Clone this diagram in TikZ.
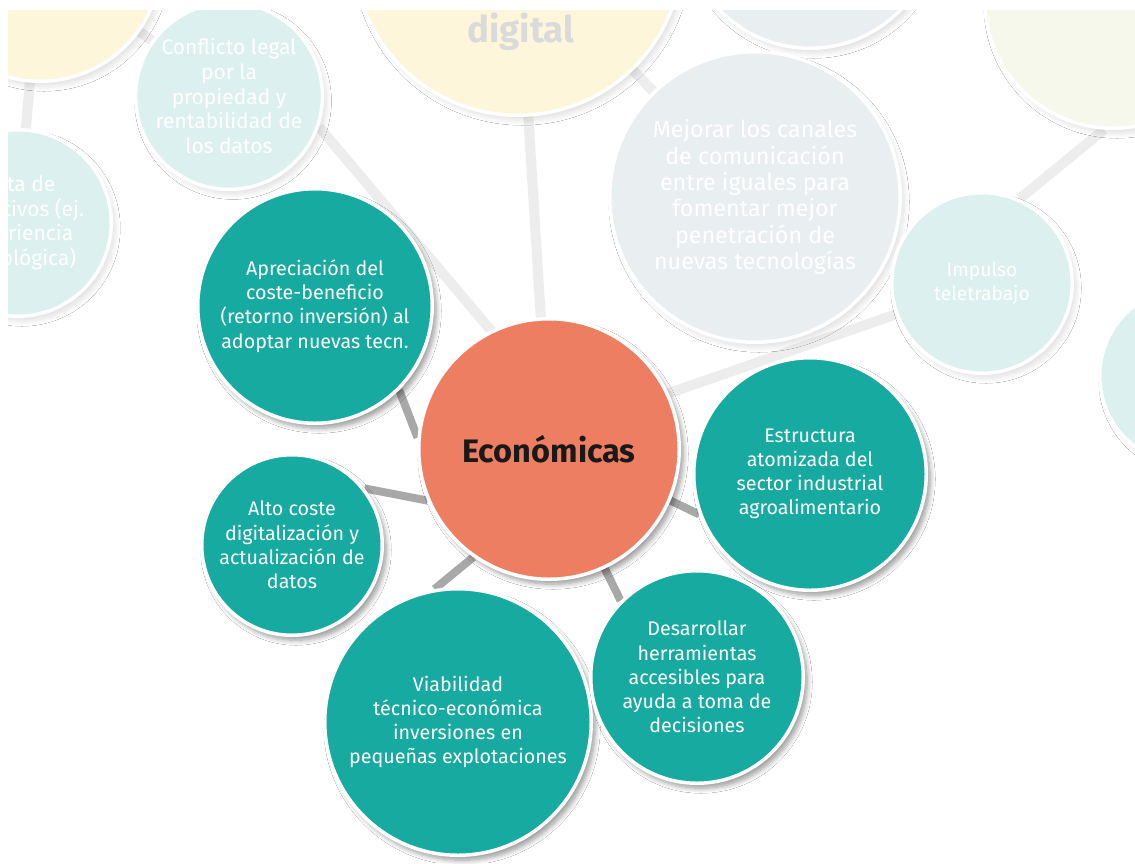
\documentclass[tikz,border=0pt]{standalone}
\usepackage{fontspec}
\setmainfont{Fira Sans}
\usetikzlibrary{shadows.blur}
\definecolor{tealc}{HTML}{17AAA0}
\definecolor{salmon}{HTML}{EE7E62}
\definecolor{fteal}{HTML}{DCF0EF}
\definecolor{fyellow}{HTML}{FDF6DA}
\definecolor{fgrey}{HTML}{E9EEF0}
\definecolor{fgreen}{HTML}{F6F8EB}
\definecolor{lnk}{HTML}{A8A8A8}
\definecolor{flnk}{HTML}{EDEDED}
\definecolor{digc}{HTML}{DADADA}
\pgfdeclarelayer{bg}
\pgfsetlayers{bg,main}
\begin{document}
\begin{tikzpicture}[x=1pt,y=-1pt,
  bub/.style={circle, draw=white, line width=3.5pt, inner sep=0pt, align=center, text=white,
    font=\fontsize{19.7}{24.2}\selectfont,
    blur shadow={shadow xshift=4pt, shadow yshift=-5pt, shadow opacity=40, shadow blur radius=5pt, shadow blur steps=8}},
  fbub/.style={circle, draw=white, line width=3.5pt, inner sep=0pt, align=center, text=white,
    font=\fontsize{21}{24.7}\selectfont,
    blur shadow={shadow xshift=4pt, shadow yshift=-5pt, shadow opacity=12, shadow blur radius=5pt, shadow blur steps=8}},
  dl/.style={draw=lnk, line width=8pt},
  fl/.style={draw=flnk, line width=10pt}]
\useasboundingbox (0,0) rectangle (1135,863);
\begin{scope}
\clip (8,10) rectangle (1135,863);
% faded background bubbles
\node[fbub, fill=fyellow, minimum size=242.5] (tl) at (40,-40) {};
\node[fbub, fill=fyellow, minimum size=328.5] (dig) at (518,-49) {};
\node[text=digc, font=\fontsize{36.5}{40}\selectfont\bfseries] (digt) at (521,32) {digital};
\node[fbub, fill=fgrey, minimum size=252.5] (tg) at (810,-78) {};
\node[fbub, fill=fgreen, minimum size=256.5] (tr) at (1113,0) {};
\node[fbub, fill=fteal, minimum size=184.5] (conf) at (229,96) {Conflicto legal\\por la\\propiedad y\\rentabilidad de\\los datos};
\node[fbub, fill=fteal, minimum size=186.5] (falta) at (18,223) {Falta de\\incentivos (ej.\\experiencia\\tecnológica)};
\node[fbub, fill=fgrey, minimum size=290.5, font=\fontsize{23.3}{26.4}\selectfont] (mej) at (755,197) {Mejorar los canales\\de comunicación\\entre iguales para\\fomentar mejor\\penetración de\\nuevas tecnologías};
\node[fbub, fill=fteal, minimum size=180.5, font=\fontsize{19.3}{24}\selectfont] (imp) at (982,283) {Impulso\\teletrabajo};
\node[fbub, fill=fteal, minimum size=176.5] (rc) at (1188,376) {};
% main bubbles
\node[bub, fill=salmon, minimum size=260.5, text=black!90, font=\fontsize{32.5}{36}\selectfont\bfseries] (eco) at (549,449) {Económicas};
\node[bub, fill=tealc, minimum size=234.5] (apr) at (315,306) {Apreciación del\\coste-beneficio\\(retorno inversión) al\\adoptar nuevas tecn.};
\node[bub, fill=tealc, minimum size=180.5] (alto) at (292,545) {Alto coste\\digitalización y\\actualización de\\datos};
\node[bub, fill=tealc, minimum size=266.5] (viab) at (458,722) {Viabilidad\\técnico-económica\\inversiones en\\pequeñas explotaciones};
\node[bub, fill=tealc, minimum size=232.5] (estr) at (810,474) {Estructura\\atomizada del\\sector industrial\\agroalimentario};
\node[bub, fill=tealc, minimum size=212.5] (des) at (697,677) {Desarrollar\\herramientas\\accesibles para\\ayuda a toma de\\decisiones};
\end{scope}
\begin{pgfonlayer}{bg}
\fill[white] (0,0) rectangle (1135,863);
\clip (8,10) rectangle (1135,863);
\draw[fl] (tl.center) -- (falta.center);
\draw[fl] (tl.center) -- (conf.center);
\draw[fl] (dig.center) -- (eco.center);
\draw[fl] (dig.center) -- (mej.center);
\draw[fl] (conf.-19) -- ([shift={(0,-50)}]eco.center);
\draw[fl] (eco.25) -- (imp.200);
\draw[fl] (imp.66) -- (tr.266);
\draw[dl] (apr.-45) -- (eco.175);
\draw[dl] (alto.38) -- (eco.203);
\draw[dl] (viab.100) -- (eco.235);
\draw[dl] (eco.-65) -- (des.135);
\draw[dl] (eco.-23) -- (estr.200);
\end{pgfonlayer}
\end{tikzpicture}
\end{document}
